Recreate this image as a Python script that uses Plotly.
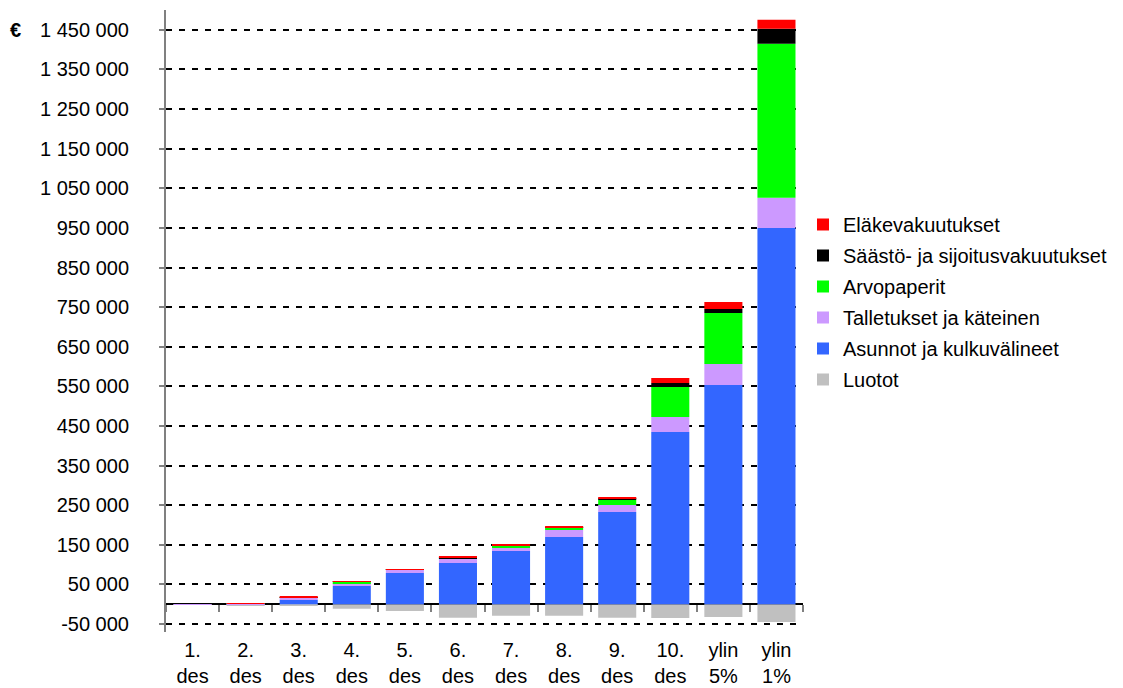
import plotly.graph_objects as go

categories = ["1.<br>des", "2.<br>des", "3.<br>des", "4.<br>des", "5.<br>des", "6.<br>des",
              "7.<br>des", "8.<br>des", "9.<br>des", "10.<br>des", "ylin<br>5%", "ylin<br>1%"]

luotot = [-300, -2000, -4500, -11300, -17200, -34000, -29000, -29000, -34000, -34800, -32300, -45000]
asunnot = [0, 500, 10600, 46000, 78800, 104000, 134300, 169700, 232800, 434800, 553500, 949900]
talletukset = [300, 1800, 5800, 7500, 8300, 10900, 9400, 17700, 17700, 37900, 53000, 76500]
arvopaperit = [0, 200, 1600, 3300, 500, 1000, 4000, 5800, 13400, 75700, 128800, 388100]
saasto = [0, 0, 300, 300, 700, 1500, 1800, 1000, 2000, 10100, 10100, 37900]
elake = [0, 300, 2000, 1500, 700, 2500, 2500, 3300, 4800, 12700, 17600, 22700]

series = [
    ("Luotot", luotot, "#C0C0C0"),
    ("Asunnot ja kulkuvälineet", asunnot, "#3366FF"),
    ("Talletukset ja käteinen", talletukset, "#CC99FF"),
    ("Arvopaperit", arvopaperit, "#00FF00"),
    ("Säästö- ja sijoitusvakuutukset", saasto, "#000000"),
    ("Eläkevakuutukset", elake, "#FF0000"),
]

ytickvals = list(range(-50000, 1450001, 100000))
yticktext = [f"{v:,}".replace(",", " ") for v in ytickvals]

YMIN, YMAX = -70000, 1500000

FONT = "Liberation Sans, Arial, sans-serif"
FS = 20

fig = go.Figure()
for i, (name, vals, color) in enumerate(series):
    fig.add_trace(go.Bar(
        x=categories, y=vals, name=name, legendgroup=name, legendrank=1000 - i,
        marker=dict(color=color, line=dict(width=0)),
    ))

# invisible helper trace for the zero-level axis carrying category-boundary ticks
fig.add_trace(go.Scatter(
    x=categories, y=[0] * len(categories), xaxis="x2", mode="markers",
    marker=dict(opacity=0), showlegend=False, hoverinfo="skip",
))

fig.update_layout(
    width=1123, height=688,
    margin=dict(l=166, r=320, t=10, b=56, autoexpand=False),
    paper_bgcolor="white", plot_bgcolor="white",
    barmode="relative", bargap=0.283,
    font=dict(family=FONT, size=FS, color="black"),
    xaxis=dict(
        type="category", range=[-0.5, 11.5], automargin=False,
        showline=False, ticks="", showgrid=False, zeroline=False,
        tickfont=dict(size=FS), ticklabelstandoff=4,
    ),
    xaxis2=dict(
        type="category", range=[-0.5, 11.5], overlaying="x", anchor="free",
        position=-YMIN / (YMAX - YMIN), side="bottom", automargin=False,
        showline=False,
        ticks="outside", tickson="boundaries", ticklen=7, tickcolor="#808080", tickwidth=2,
        showticklabels=False, showgrid=False, zeroline=False,
    ),
    yaxis=dict(
        range=[YMIN, YMAX], tickvals=ytickvals, ticktext=yticktext, automargin=False,
        showline=True, linecolor="#808080", linewidth=2,
        ticks="outside", ticklen=5, tickcolor="#808080", tickwidth=2,
        ticklabelstandoff=26, tickfont=dict(size=FS),
        zeroline=True, zerolinecolor="black", zerolinewidth=1.5,
        showgrid=True, gridcolor="black", gridwidth=2, griddash="6px,7px",
    ),
    legend=dict(
        x=1.0, y=0.6865, xanchor="left", yanchor="top",
        traceorder="grouped", tracegroupgap=2,
        itemwidth=30, font=dict(size=FS),
        bgcolor="rgba(0,0,0,0)",
    ),
    annotations=[dict(
        text="<b>€</b>", xref="paper", yref="y", x=-0.236, y=1450000,
        xanchor="center", yanchor="middle", showarrow=False, font=dict(size=FS),
    )],
)

# bottom gridline drawn explicitly as well, in case plotly drops the edge grid line
fig.add_hline(y=ytickvals[0], line=dict(color="black", width=2, dash="6px,7px"), layer="below")

fig.write_html("out.html", config={"displayModeBar": False},
               post_script="document.body.style.margin='0';")
